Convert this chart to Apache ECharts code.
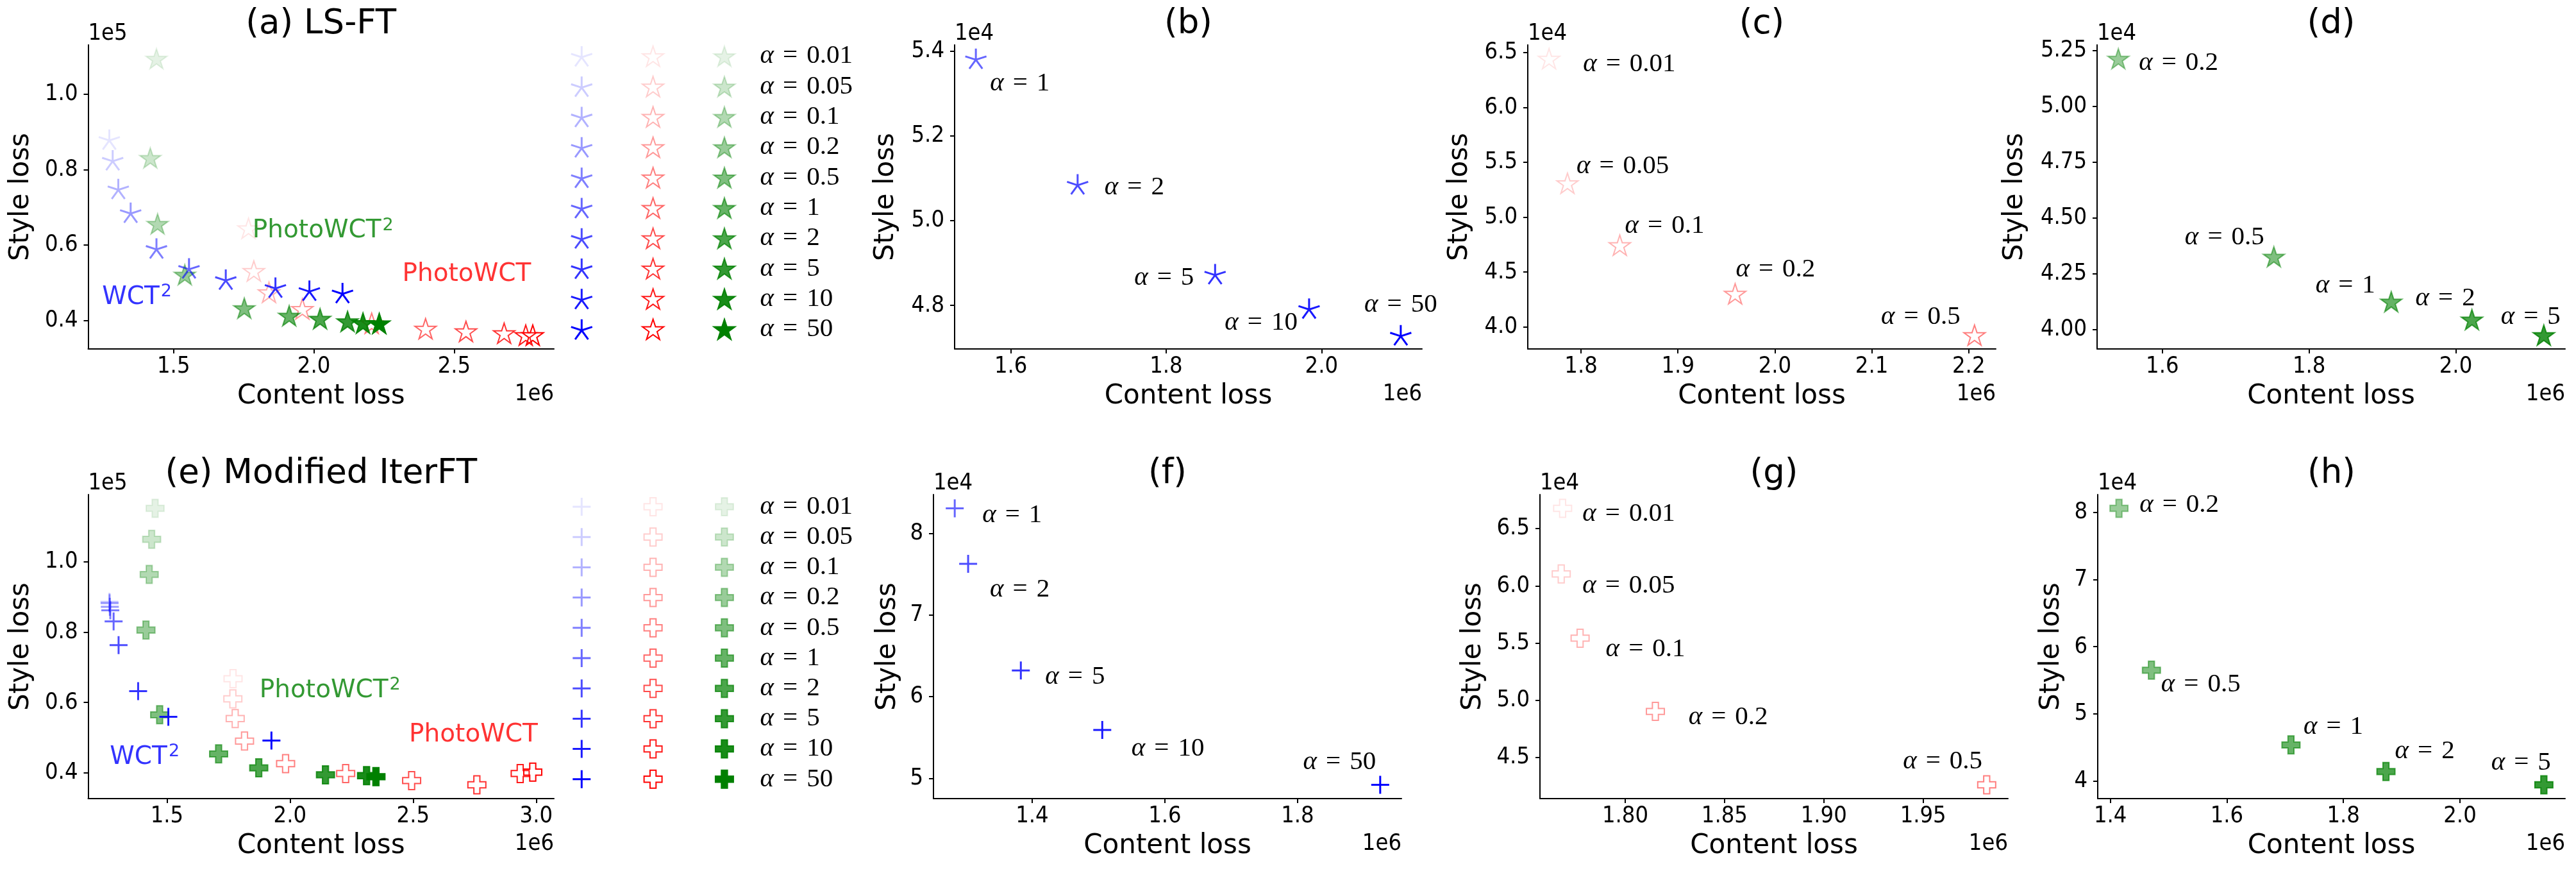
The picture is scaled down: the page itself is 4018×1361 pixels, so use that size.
<!DOCTYPE html>
<html><head><meta charset="utf-8">
<script src="https://cdn.jsdelivr.net/npm/echarts@6/dist/echarts.min.js"></script>
<style>html,body{margin:0;padding:0;background:#fff}#c{width:4018px;height:1361px}</style>
</head><body><div id="c"></div><script>
// ---------------- DATA ----------------
const alphas = [0.01, 0.05, 0.1, 0.2, 0.5, 1, 2, 5, 10, 50];
const alphaLabels = ['0.01', '0.05', '0.1', '0.2', '0.5', '1', '2', '5', '10', '50'];

// LS-FT  (content loss in 1e6, style loss in 1e4)
const lsWct2Content   = [1.271, 1.283, 1.303, 1.347, 1.439, 1.555, 1.686, 1.863, 1.984, 2.102];
const lsWct2Style     = [8.80, 8.25, 7.49, 6.86, 5.91, 5.382, 5.086, 4.874, 4.793, 4.730];
const lsPhotoContent  = [1.767, 1.786, 1.840, 1.959, 2.206, 2.398, 2.542, 2.678, 2.755, 2.780];
const lsPhotoStyle    = [6.444, 5.310, 4.745, 4.303, 3.926, 3.78, 3.71, 3.66, 3.61, 3.61];
const lsPhoto2Content = [1.439, 1.417, 1.443, 1.540, 1.752, 1.912, 2.022, 2.120, 2.175, 2.233];
const lsPhoto2Style   = [10.94, 8.31, 6.56, 5.214, 4.326, 4.124, 4.044, 3.974, 3.93, 3.92];

// Modified IterFT (content loss in 1e6, style loss in 1e4)
const itWct2Content   = [1.266, 1.267, 1.267, 1.268, 1.270, 1.2834, 1.3036, 1.383, 1.5057, 1.9245];
const itWct2Style     = [8.87, 8.85, 8.82, 8.72, 8.62, 8.308, 7.629, 6.322, 5.592, 4.920];
const itPhotoContent  = [1.7685, 1.7678, 1.7773, 1.8152, 1.982, 2.226, 2.494, 2.759, 2.935, 2.986];
const itPhotoStyle    = [6.677, 6.104, 5.543, 4.903, 4.262, 3.98, 3.78, 3.66, 3.98, 4.02];
const itPhoto2Content = [1.452, 1.438, 1.428, 1.4148, 1.4705, 1.710, 1.873, 2.144, 2.311, 2.349];
const itPhoto2Style   = [11.52, 10.64, 9.64, 8.06, 5.65, 4.537, 4.141, 3.944, 3.92, 3.89];

// tick labels
const ticksA = {x: [1.5, 2.0, 2.5], y: [0.4, 0.6, 0.8, 1.0]};
const ticksB = {x: [1.6, 1.8, 2.0], y: [4.8, 5.0, 5.2, 5.4]};
const ticksC = {x: [1.8, 1.9, 2.0, 2.1, 2.2], y: [4.0, 4.5, 5.0, 5.5, 6.0, 6.5]};
const ticksD = {x: [1.6, 1.8, 2.0], y: [4.0, 4.25, 4.5, 4.75, 5.0, 5.25]};
const ticksE = {x: [1.5, 2.0, 2.5, 3.0], y: [0.4, 0.6, 0.8, 1.0]};
const ticksF = {x: [1.4, 1.6, 1.8], y: [5, 6, 7, 8]};
const ticksG = {x: [1.80, 1.85, 1.90, 1.95], y: [4.5, 5.0, 5.5, 6.0, 6.5]};
const ticksH = {x: [1.4, 1.6, 1.8, 2.0], y: [4, 5, 6, 7, 8]};

// ---------------- STYLE ----------------
const STAR  = 'path://M50,0L61.2,34.5L97.6,34.5L68.2,55.9L79.4,90.5L50,69.1L20.6,90.5L31.8,55.9L2.4,34.5L38.8,34.5Z';
const ASTER = 'path://M50,50L50,0M50,50L97.6,34.5M50,50L79.4,90.5M50,50L20.6,90.5M50,50L2.4,34.5';
const PLUS  = 'path://M50,0L50,100M0,50L100,50';
const PFILL = 'path://M33.3,0L66.7,0L66.7,33.3L100,33.3L100,66.7L66.7,66.7L66.7,100L33.3,100L33.3,66.7L0,66.7L0,33.3L33.3,33.3Z';
const BLUE = '0,0,255', RED = '255,0,0', GREEN = '0,128,0';
const SANS = "'DejaVu Sans', sans-serif";
const COND = "'DejaVu Sans Condensed', 'DejaVu Sans', sans-serif";
const SERIF = "'Liberation Serif', 'DejaVu Serif', serif";

const methodStyles = {
  wct2_ls:   {symbol: ASTER, size: 33, rgb: BLUE,  fill: false, lw: 3},
  photo_ls:  {symbol: STAR,  size: 33, rgb: RED,   fill: false, lw: 2},
  photo2_ls: {symbol: STAR,  size: 33, rgb: GREEN, fill: true,  lw: 2},
  wct2_it:   {symbol: PLUS,  size: 28, rgb: BLUE,  fill: false, lw: 3},
  photo_it:  {symbol: PFILL, size: 28, rgb: RED,   fill: false, lw: 2},
  photo2_it: {symbol: PFILL, size: 28, rgb: GREEN, fill: true,  lw: 2}
};
const lvl = i => (i + 1) / 10;
function pointStyle(st, i) {
  const c = 'rgba(' + st.rgb + ',' + lvl(i) + ')';
  return {color: st.fill ? c : 'rgba(0,0,0,0)', borderColor: c, borderWidth: st.lw, opacity: 1};
}
const RICH = {
  a: {fontFamily: SERIF, fontStyle: 'italic', fontSize: 41, color: '#000'},
  e: {fontFamily: SERIF, fontSize: 41, color: '#000', padding: [0, 14]},
  n: {fontFamily: SERIF, fontSize: 41, color: '#000'}
};
const alphaText = s => '{a|α}{e|=}{n|' + s + '}';

// annotation placement for sub panels: [align, dx, dy] (px from marker centre)
const annB = [['left', 22, 39], ['left', 42, 5], ['right', -33, 5.5], ['right', -18, 22], ['center', 0, -47]];
const annC = [['left', 53, 9], ['left', 14, -26.5], ['left', 8, -30], ['left', 1, -37.6], ['right', -22, -28.4]];
const annD = [['left', 32, 7], ['right', -15, -30], ['right', -25, -25], ['right', 5, -33], ['right', 26, -28]];
const annF = [['left', 43, 10.5], ['left', 34, 40], ['left', 38, 10.5], ['left', 45.5, 29.5], ['right', -6.6, -35.4]];
const annG = [['left', 31, 8.4], ['left', 33, 18], ['left', 40, 17.7], ['left', 51.6, 9.3], ['right', -6.7, -36]];
const annH = [['left', 32, -5], ['left', 15, 22], ['left', 19.5, -28], ['left', 14, -31.6], ['right', 11, -34.6]];

const ALL = [0, 1, 2, 3, 4, 5, 6, 7, 8, 9];
const panels = [
  {rect: [137.5, 70, 726.5, 474], yUnit: 10, ticks: ticksA, xDec: 1, yDec: 1, yExp: '1e5', title: '(a) LS-FT', yGap: 104,
   sets: [['photo_ls', lsPhotoContent, lsPhotoStyle, ALL], ['photo2_ls', lsPhoto2Content, lsPhoto2Style, ALL], ['wct2_ls', lsWct2Content, lsWct2Style, ALL]],
   groups: [['WCT', '2', BLUE, 1.245, 0.461], ['PhotoWCT', '2', GREEN, 1.781, 0.637], ['PhotoWCT', '', RED, 2.315, 0.522]]},
  {rect: [1489, 70, 729, 474], yUnit: 1, ticks: ticksB, xDec: 1, yDec: 1, yExp: '1e4', title: '(b)', yGap: 107,
   sets: [['wct2_ls', lsWct2Content, lsWct2Style, [5, 6, 7, 8, 9]]], ann: annB},
  {rect: [2383, 70, 730, 474], yUnit: 1, ticks: ticksC, xDec: 1, yDec: 1, yExp: '1e4', title: '(c)', yGap: 106,
   sets: [['photo_ls', lsPhotoContent, lsPhotoStyle, [0, 1, 2, 3, 4]]], ann: annC},
  {rect: [3271, 70, 730, 474], yUnit: 1, ticks: ticksD, xDec: 1, yDec: 2, yExp: '1e4', title: '(d)', yGap: 128,
   sets: [['photo2_ls', lsPhoto2Content, lsPhoto2Style, [3, 4, 5, 6, 7]]], ann: annD},
  {rect: [137.5, 771, 726.5, 474], yUnit: 10, ticks: ticksE, xDec: 1, yDec: 1, yExp: '1e5', title: '(e) Modified IterFT', yGap: 104,
   sets: [['photo_it', itPhotoContent, itPhotoStyle, ALL], ['photo2_it', itPhoto2Content, itPhoto2Style, ALL], ['wct2_it', itWct2Content, itWct2Style, ALL]],
   groups: [['WCT', '2', BLUE, 1.268, 0.444], ['PhotoWCT', '2', GREEN, 1.876, 0.634], ['PhotoWCT', '', RED, 2.4835, 0.508]]},
  {rect: [1456, 771, 730, 474], yUnit: 1, ticks: ticksF, xDec: 1, yDec: 0, yExp: '1e4', title: '(f)', yGap: 71,
   sets: [['wct2_it', itWct2Content, itWct2Style, [5, 6, 7, 8, 9]]], ann: annF},
  {rect: [2402, 771, 730, 474], yUnit: 1, ticks: ticksG, xDec: 2, yDec: 1, yExp: '1e4', title: '(g)', yGap: 104,
   sets: [['photo_it', itPhotoContent, itPhotoStyle, [0, 1, 2, 3, 4]]], ann: annG},
  {rect: [3272, 771, 729, 474], yUnit: 1, ticks: ticksH, xDec: 1, yDec: 0, yExp: '1e4', title: '(h)', yGap: 71.5,
   sets: [['photo2_it', itPhoto2Content, itPhoto2Style, [3, 4, 5, 6, 7]]], ann: annH}
];

function padRange(vals) {
  const lo = Math.min(...vals), hi = Math.max(...vals), m = (hi - lo) * 0.05;
  return [lo - m, hi + m];
}

const grid = [], xAxis = [], yAxis = [], series = [], graphic = [];
panels.forEach((p, k) => {
  grid.push({left: p.rect[0], top: p.rect[1], width: p.rect[2], height: p.rect[3], containLabel: false});
  const xs = [], ys = [];
  p.sets.forEach(s => s[3].forEach(i => { xs.push(s[1][i]); ys.push(s[2][i] / p.yUnit); }));
  const xr = padRange(xs), yr = padRange(ys);
  const axisCommon = {
    gridIndex: k, type: 'value', scale: true,
    splitLine: {show: false},
    axisLine: {show: true, onZero: false, lineStyle: {color: '#000', width: 2}},
    nameLocation: 'middle',
    nameTextStyle: {fontSize: 42, fontFamily: SANS, color: '#000', align: 'center', verticalAlign: 'middle'}
  };
  xAxis.push(Object.assign({}, axisCommon, {
    min: xr[0], max: xr[1], name: 'Content loss', nameGap: 74,
    axisTick: {show: true, length: 7, lineStyle: {color: '#000', width: 2}, customValues: p.ticks.x},
    axisLabel: {customValues: p.ticks.x, formatter: v => Number(v).toFixed(p.xDec), margin: 10, fontSize: 36, fontFamily: COND, color: '#000'}
  }));
  yAxis.push(Object.assign({}, axisCommon, {
    min: yr[0], max: yr[1], name: 'Style loss', nameGap: p.yGap, nameRotate: 90,
    axisTick: {show: true, length: 7, lineStyle: {color: '#000', width: 2}, customValues: p.ticks.y},
    axisLabel: {customValues: p.ticks.y, formatter: v => Number(v).toFixed(p.yDec), margin: 16, fontSize: 36, fontFamily: COND, color: '#000'}
  }));
  p.sets.forEach(s => {
    const st = methodStyles[s[0]];
    series.push({
      type: 'scatter', xAxisIndex: k, yAxisIndex: k, symbol: st.symbol, symbolSize: st.size,
      symbolKeepAspect: true, silent: true, clip: false, emphasis: {disabled: true},
      data: s[3].map((i, j) => {
        const d = {value: [s[1][i], s[2][i] / p.yUnit], itemStyle: pointStyle(st, i)};
        if (p.ann) {
          const an = p.ann[j];
          d.label = {show: true, position: 'inside', align: an[0], verticalAlign: 'middle', offset: [an[1], an[2]],
            formatter: () => alphaText(alphaLabels[i]), rich: RICH, color: '#000', textBorderWidth: 0};
        }
        return d;
      })
    });
  });
  if (p.groups) {
    p.groups.forEach(g => {
      const col = 'rgb(' + g[2] + ')';
      series.push({
        type: 'scatter', xAxisIndex: k, yAxisIndex: k, symbolSize: 1, silent: true, clip: false,
        itemStyle: {color: 'rgba(0,0,0,0)'}, emphasis: {disabled: true},
        data: [{value: [g[3], g[4]], label: {show: true, position: 'inside', align: 'left', verticalAlign: 'middle',
          formatter: () => '{m|' + g[0] + '}' + (g[1] ? '{s|' + g[1] + '}' : ''),
          rich: {
            m: {color: col, fontSize: 39, fontFamily: SANS, lineHeight: 44},
            s: {color: col, fontSize: 27, fontFamily: SANS, verticalAlign: 'top', lineHeight: 26, padding: [0, 0, 0, 2]}
          },
          textBorderWidth: 0}}]
      });
    });
  }
  const cx = p.rect[0] + p.rect[2] / 2;
  graphic.push({type: 'text', x: cx, y: p.rect[1] - 31.5, silent: true,
    style: {text: p.title, fontSize: 53, fontFamily: SANS, fill: '#000', align: 'center', verticalAlign: 'middle', textAlign: 'center', textVerticalAlign: 'middle'}});
  graphic.push({type: 'text', x: p.rect[0], y: p.rect[1] - 17, silent: true,
    style: {text: p.yExp, fontSize: 36, fontFamily: COND, fill: '#000', align: 'left', verticalAlign: 'middle', textAlign: 'left', textVerticalAlign: 'middle'}});
  graphic.push({type: 'text', x: p.rect[0] + p.rect[2], y: p.rect[1] + p.rect[3] + 71, silent: true,
    style: {text: '1e6', fontSize: 36, fontFamily: COND, fill: '#000', align: 'right', verticalAlign: 'middle', textAlign: 'right', textVerticalAlign: 'middle'}});
});

// legends (two marker tables)
const legendDefs = [
  {rect: [851.6, 64, 334, 473], keys: ['wct2_ls', 'photo_ls', 'photo2_ls']},
  {rect: [851.6, 766.4, 334, 472], keys: ['wct2_it', 'photo_it', 'photo2_it']}
];
legendDefs.forEach(L => {
  const k = grid.length;
  grid.push({left: L.rect[0], top: L.rect[1], width: L.rect[2], height: L.rect[3]});
  xAxis.push({gridIndex: k, type: 'value', min: 0, max: 3, show: false});
  yAxis.push({gridIndex: k, type: 'category', data: alphaLabels, inverse: true, position: 'right',
    axisLine: {show: false}, axisTick: {show: false}, splitLine: {show: false},
    axisLabel: {interval: 0, margin: 0, align: 'left', formatter: v => alphaText(v), rich: RICH}});
  L.keys.forEach((key, c) => {
    const st = methodStyles[key];
    series.push({type: 'scatter', xAxisIndex: k, yAxisIndex: k, symbol: st.symbol, symbolSize: st.size,
      symbolKeepAspect: true, silent: true, emphasis: {disabled: true},
      data: alphas.map((a, i) => ({value: [c + 0.5, i], itemStyle: pointStyle(st, i)}))});
  });
});

const chart = echarts.init(document.getElementById('c'), null, {renderer: 'canvas', width: 4018, height: 1361});
chart.setOption({backgroundColor: '#fff', animation: false, grid, xAxis, yAxis, series, graphic});
</script></body></html>
